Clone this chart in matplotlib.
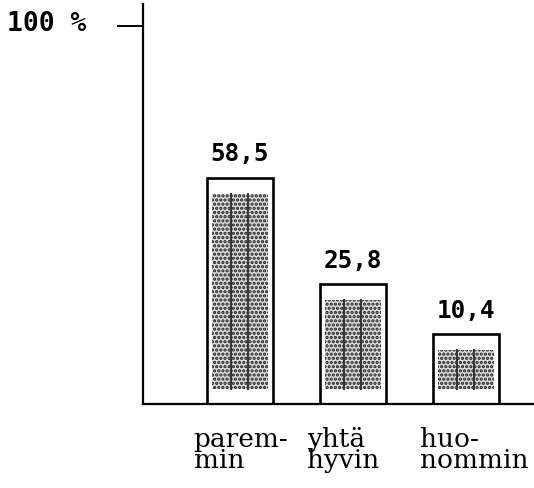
import numpy as np
import matplotlib
matplotlib.use('Agg')
import matplotlib.pyplot as plt

# Data
categories = ['parem-\nmin', 'yhtä\nhyvin', 'huo-\nnommin']
values = [58.5, 25.8, 10.4]
value_labels = ['58,5', '25,8', '10,4']

plt.rcParams['hatch.linewidth'] = 1.6

fig = plt.figure(figsize=(5.34, 4.89), dpi=100)
ax = fig.add_axes([143 / 534, 84 / 489, 391 / 534, 400 / 489])

x = np.arange(len(values))
vals = np.array(values)

# frame box drawn round each stippled bar (hand drawn, a bit taller than the value)
frame_top = 0.86 * vals + 9.5
inner_bottom = 4.0
inner_top = frame_top - 4.2

ax.bar(x, frame_top, width=0.585, facecolor='white', edgecolor='black', linewidth=1.9, zorder=2)
ax.bar(x, inner_top - inner_bottom, bottom=inner_bottom, width=0.49,
       facecolor='#dddddd', edgecolor='#1a1a1a', hatch='....', linewidth=0, zorder=3)
for xi, t in zip(x, inner_top):
    for dx in (-0.075, 0.07):
        ax.plot([xi + dx, xi + dx], [inner_bottom, t], color='#333333', lw=1.4, zorder=4)

for xi, top, lab in zip(x, frame_top, value_labels):
    ax.annotate(lab, xy=(xi, top), xytext=(0, 9), textcoords='offset points',
                ha='center', va='bottom', fontsize=17.5, fontweight='bold',
                family='DejaVu Sans Mono')

for xi, cat in zip(x, categories):
    ax.text(xi - 0.41, -0.055, cat, transform=ax.get_xaxis_transform(),
            ha='left', va='top', fontsize=19, family='DejaVu Serif',
            linespacing=0.78)

ax.set_xlim(-0.858, 2.602)
ax.set_ylim(0, 105.8)

for side in ('top', 'right'):
    ax.spines[side].set_visible(False)
ax.spines['left'].set_linewidth(1.6)
ax.spines['bottom'].set_linewidth(1.6)

ax.set_xticks([])
ax.set_yticks([100])
ax.set_yticklabels([''])
ax.tick_params(axis='y', length=18.5, width=1.4, direction='out')
ax.annotate('100 %', xy=(0, 100), xycoords=('axes fraction', 'data'),
            xytext=(-41, 2), textcoords='offset points', ha='right', va='center',
            fontsize=19, fontweight='bold', family='DejaVu Sans Mono')

fig.savefig('out.png', dpi=100)
